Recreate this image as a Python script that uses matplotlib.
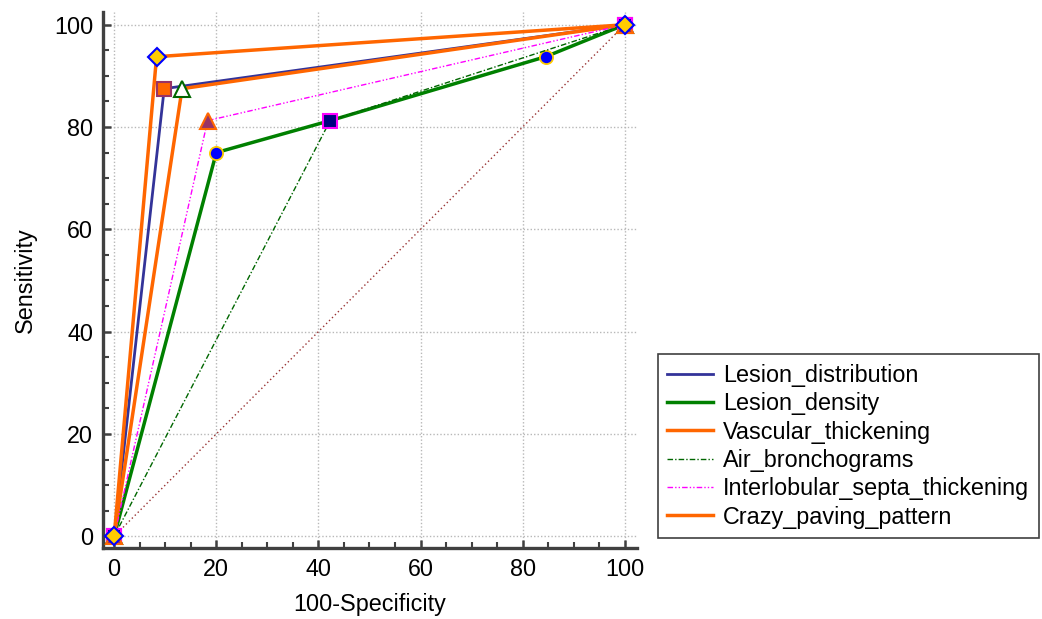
import matplotlib
matplotlib.use("Agg")
import matplotlib.pyplot as plt
from matplotlib.ticker import MultipleLocator

plt.rcParams['font.family'] = ['Liberation Sans', 'DejaVu Sans']

# Data (100-Specificity, Sensitivity)
names = ["Lesion_distribution", "Lesion_density", "Vascular_thickening",
         "Air_bronchograms", "Interlobular_septa_thickening", "Crazy_paving_pattern"]
fpr_lesion_distribution = [0, 9.8, 100]
tpr_lesion_distribution = [0, 87.5, 100]
fpr_lesion_density = [0, 20.0, 42.3, 84.5, 100]
tpr_lesion_density = [0, 75.0, 81.25, 93.75, 100]
fpr_vascular = [0, 13.3, 100]
tpr_vascular = [0, 87.5, 100]
fpr_air = [0, 42.3, 100]
tpr_air = [0, 81.25, 100]
fpr_septa = [0, 18.3, 100]
tpr_septa = [0, 81.25, 100]
fpr_crazy = [0, 8.3, 100]
tpr_crazy = [0, 93.75, 100]
diag = [0, 100]

xs = [fpr_lesion_distribution, fpr_lesion_density, fpr_vascular, fpr_air, fpr_septa, fpr_crazy]
ys = [tpr_lesion_distribution, tpr_lesion_density, tpr_vascular, tpr_air, tpr_septa, tpr_crazy]

styles = [
    dict(color="#333399", lw=2.0, ls="-", marker="s", mfc="#FF6600", mec="#993366", ms=10, mew=1.5),
    dict(color="#008000", lw=2.5, ls="-", marker="o", mfc="#0000FF", mec="#FFCC00", ms=9.5, mew=1.3),
    dict(color="#FF6600", lw=2.5, ls="-", marker="^", mfc="white", mec="#006600", ms=12, mew=1.5),
    dict(color="#006600", lw=1.0, ls=(0, (4, 1.5, 1, 1.5)), marker="s", mfc="#000080", mec="#FF00FF", ms=10, mew=1.5),
    dict(color="#FF00FF", lw=1.0, ls=(0, (4, 1.5, 1, 1.5, 1, 1.5)), marker="^", mfc="#993366", mec="#FF6600", ms=12, mew=1.5),
    dict(color="#FF6600", lw=2.5, ls="-", marker="D", mfc="#FFCC00", mec="#0000FF", ms=9, mew=1.5),
]

fig = plt.figure(figsize=(10.42, 6.19), dpi=100)
ax = fig.add_axes([0.0988, 0.1147, 0.5125, 0.866])

ax.plot(diag, diag, color="#993333", lw=1.0, ls=(0, (1, 2)), zorder=2)

handles = []
for i, (x, y, st, nm) in enumerate(zip(xs, ys, styles, names)):
    ln, = ax.plot(x, y, color=st["color"], lw=st["lw"], ls=st["ls"], marker=st["marker"],
                  markerfacecolor=st["mfc"], markeredgecolor=st["mec"], markersize=st["ms"],
                  markeredgewidth=st["mew"], zorder=3 + i, clip_on=False)
    h, = ax.plot([], [], color=st["color"], lw=st["lw"], ls=st["ls"], label=nm)
    handles.append(h)

ax.set_xlim(-2.2, 102.4)
ax.set_ylim(-2.3, 102.5)
ax.xaxis.set_major_locator(MultipleLocator(20))
ax.yaxis.set_major_locator(MultipleLocator(20))
ax.xaxis.set_minor_locator(MultipleLocator(5))
ax.yaxis.set_minor_locator(MultipleLocator(5))

ax.grid(True, which="major", color="#b8b8b8", ls=(0, (1, 1.5)), lw=1.0, zorder=0)
for s in ["top", "right"]:
    ax.spines[s].set_visible(False)
for s in ["left", "bottom"]:
    ax.spines[s].set_linewidth(2.4)
    ax.spines[s].set_color("#404040")

ax.tick_params(which="major", direction="in", length=6, width=1.8, color="#404040",
               labelsize=16.8, pad=7)
ax.tick_params(which="minor", direction="in", length=4, width=1.5, color="#404040")

ax.set_xlabel("100-Specificity", fontsize=16.8, labelpad=9)
ax.set_ylabel("Sensitivity", fontsize=16.8, labelpad=12)

leg = fig.legend(handles=handles, loc="lower left", bbox_to_anchor=(0.6315, 0.1309),
                 fontsize=16.8, frameon=True, fancybox=False, framealpha=1,
                 edgecolor="#404040", handlelength=1.95, handletextpad=0.45,
                 labelspacing=0.23, borderpad=0.4, borderaxespad=0)
leg.get_frame().set_linewidth(1.2)

fig.savefig("out.png", dpi=100)
